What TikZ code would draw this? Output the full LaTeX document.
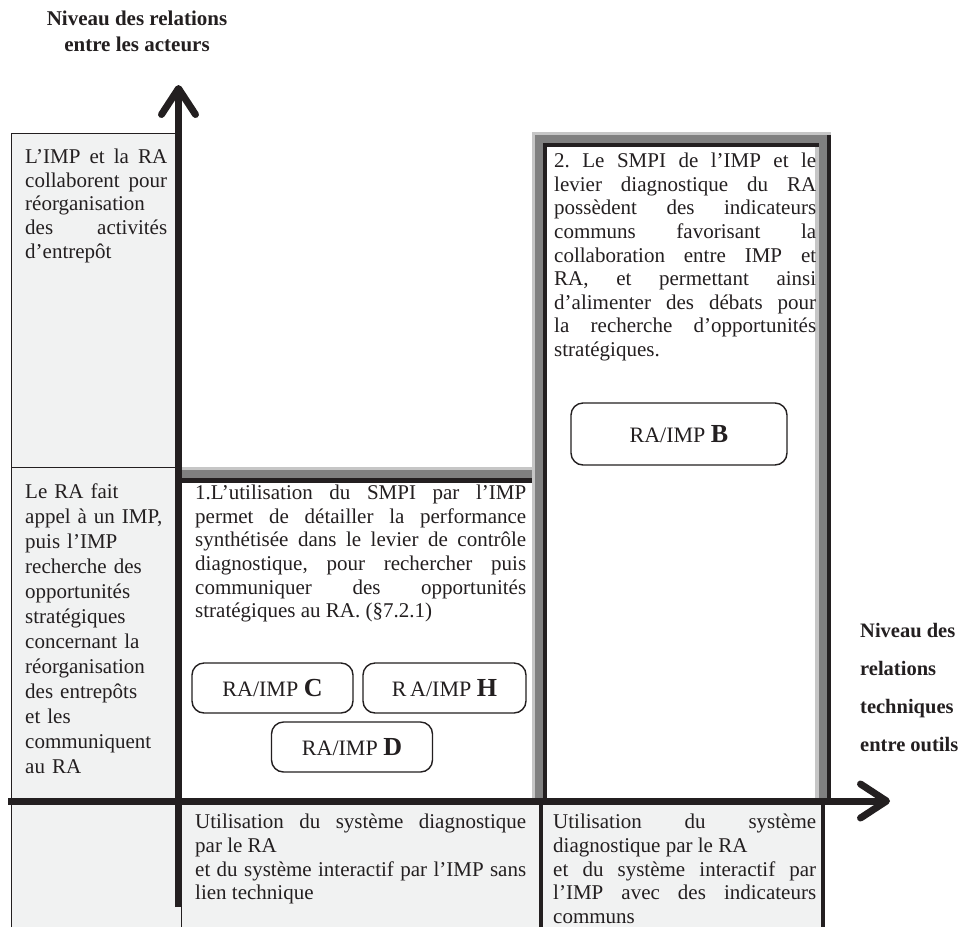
\documentclass[tikz,border=0pt]{standalone}
\usepackage{fontspec}
\setmainfont{Liberation Serif}
\usetikzlibrary{arrows.meta}
\definecolor{ink}{HTML}{231F20}
\definecolor{paneGray}{HTML}{F1F2F2}
\definecolor{frameMid}{HTML}{808080}
\definecolor{frameLight}{HTML}{C6C6C6}
\setlength{\parindent}{0pt}
\frenchspacing
\hyphenpenalty=10000
\exhyphenpenalty=10000
\tolerance=10000
\hbadness=10000

\begin{document}
\begin{tikzpicture}[x=1pt, y=-1pt,
    txt/.style={anchor=north west, inner sep=0pt, text width=#1, align=justify,
                font=\fontsize{21}{23.6}\selectfont, text=ink},
    txt/.default=142pt,
    etiq/.style={draw=ink, line width=1.4pt, rounded corners=12pt, fill=white,
                 minimum width=161pt, minimum height=50pt, inner sep=0pt,
                 font=\fontsize{22}{24}\selectfont, text=ink},
    axislbl/.style={inner sep=0pt, text=ink, font=\bfseries\fontsize{21}{26}\selectfont},
    axis/.style={draw=ink, line width=7pt,
                 -{Straight Barb[length=26pt, width=34pt, round]}},
    thin/.style={draw=ink, line width=1pt},
  ]
  \useasboundingbox (0,0) rectangle (963,927);

  % panneaux gris
  \fill[paneGray] (11,133) rectangle (178,927);
  \fill[paneGray] (178,801) rectangle (823,927);

  % cadre de la case 2
  \fill[frameMid] (532,132) rectangle (831,801);
  \fill[frameLight] (532,132) rectangle (831,135);
  \fill[frameLight] (532,132) rectangle (535,801);
  \fill[ink] (827,135) rectangle (831,801);
  \fill[ink] (543,143) rectangle (819,147);
  \fill[ink] (543,143) rectangle (547,801);
  \fill[frameLight] (815,147) rectangle (819,801);
  \fill[white] (547,147) rectangle (815,801);

  % cadre de la case 1
  \fill[frameMid] (182,467) rectangle (532,478);
  \fill[frameLight] (182,467) rectangle (532,469.5);
  \fill[ink] (182,478) rectangle (532,483);
  \fill[white] (182,483) rectangle (532,801);

  % traits fins du tableau
  \draw[thin] (11,927) -- (11,133) -- (178,133);
  \draw[thin] (11,467) -- (178,467);
  \draw[thin] (181,801) -- (181,927);
  \draw[ink, line width=4pt] (541,801) -- (541,927);
  \draw[ink, line width=4pt] (823,801) -- (823,927);

  % axes
  \coordinate (yfoot) at (178.5,907);
  \coordinate (ytip) at (178.5,85);
  \coordinate (xfoot) at (8,801);
  \coordinate (xtip) at (890,801);
  \draw[axis] (yfoot) -- (ytip);
  \draw[axis] (xfoot) -- (xtip);

  \node[axislbl, align=center] (ylbl) at (137,31)
    {Niveau des relations\\entre les acteurs};
  \node[axislbl, align=left, anchor=west,
        font=\bfseries\fontsize{20.5}{38}\selectfont] (xlbl) at (860,687)
    {Niveau des\\relations\\techniques\\entre outils};

  % colonne de gauche
  \node[txt] (acteurs2) at (25,149)
    {L'IMP et la RA\linebreak collaborent pour\linebreak
     réorganisation\linebreak des activités\linebreak d'entrepôt};
  \node[txt, align=left, font=\fontsize{21}{25}\selectfont] (acteurs1) at (25,484)
    {Le RA fait\\appel à un IMP,\\puis l'IMP\\recherche des\\opportunités\\
     stratégiques\\concernant la\\réorganisation\\des entrepôts\\et les\\
     communiquent\\au RA};

  % case 1
  \node[txt=331pt] (case1) at (195,485)
    {1.L'utilisation du SMPI par l'IMP\linebreak
     permet de détailler la performance\linebreak
     synthétisée dans le levier de contrôle\linebreak
     diagnostique, pour rechercher puis\linebreak
     communiquer des opportunités\linebreak
     stratégiques au RA. (§7.2.1)};
  \node[etiq] (impC) at (272.5,688) {RA/IMP \textbf{\fontsize{26}{26}\selectfont C}};
  \node[etiq, minimum width=163pt] (impH) at (444.5,688) {R\,A/IMP \textbf{\fontsize{26}{26}\selectfont H}};
  \node[etiq] (impD) at (352,747) {RA/IMP \textbf{\fontsize{26}{26}\selectfont D}};

  % case 2
  \node[txt=262pt] (case2) at (554,153)
    {2. Le SMPI de l'IMP et le\linebreak
     levier diagnostique du RA\linebreak
     possèdent des indicateurs\linebreak
     communs favorisant la\linebreak
     collaboration entre IMP et\linebreak
     RA, et permettant ainsi\linebreak
     d'alimenter des débats pour\linebreak
     la recherche d'opportunités\linebreak
     stratégiques.};
  \node[etiq, minimum width=216pt, minimum height=62pt] (impB) at (679,434)
    {RA/IMP \textbf{\fontsize{26}{26}\selectfont B}};

  % ligne du bas
  \node[txt=331pt] (outils1) at (195,814)
    {Utilisation du système diagnostique\linebreak par le RA\par
     et du système interactif par l'IMP sans\linebreak lien technique};
  \node[txt=263pt] (outils2) at (553,814)
    {Utilisation du système\linebreak diagnostique par le RA\par
     et du système interactif par\linebreak
     l'IMP avec des indicateurs\linebreak communs};
\end{tikzpicture}
\end{document}
